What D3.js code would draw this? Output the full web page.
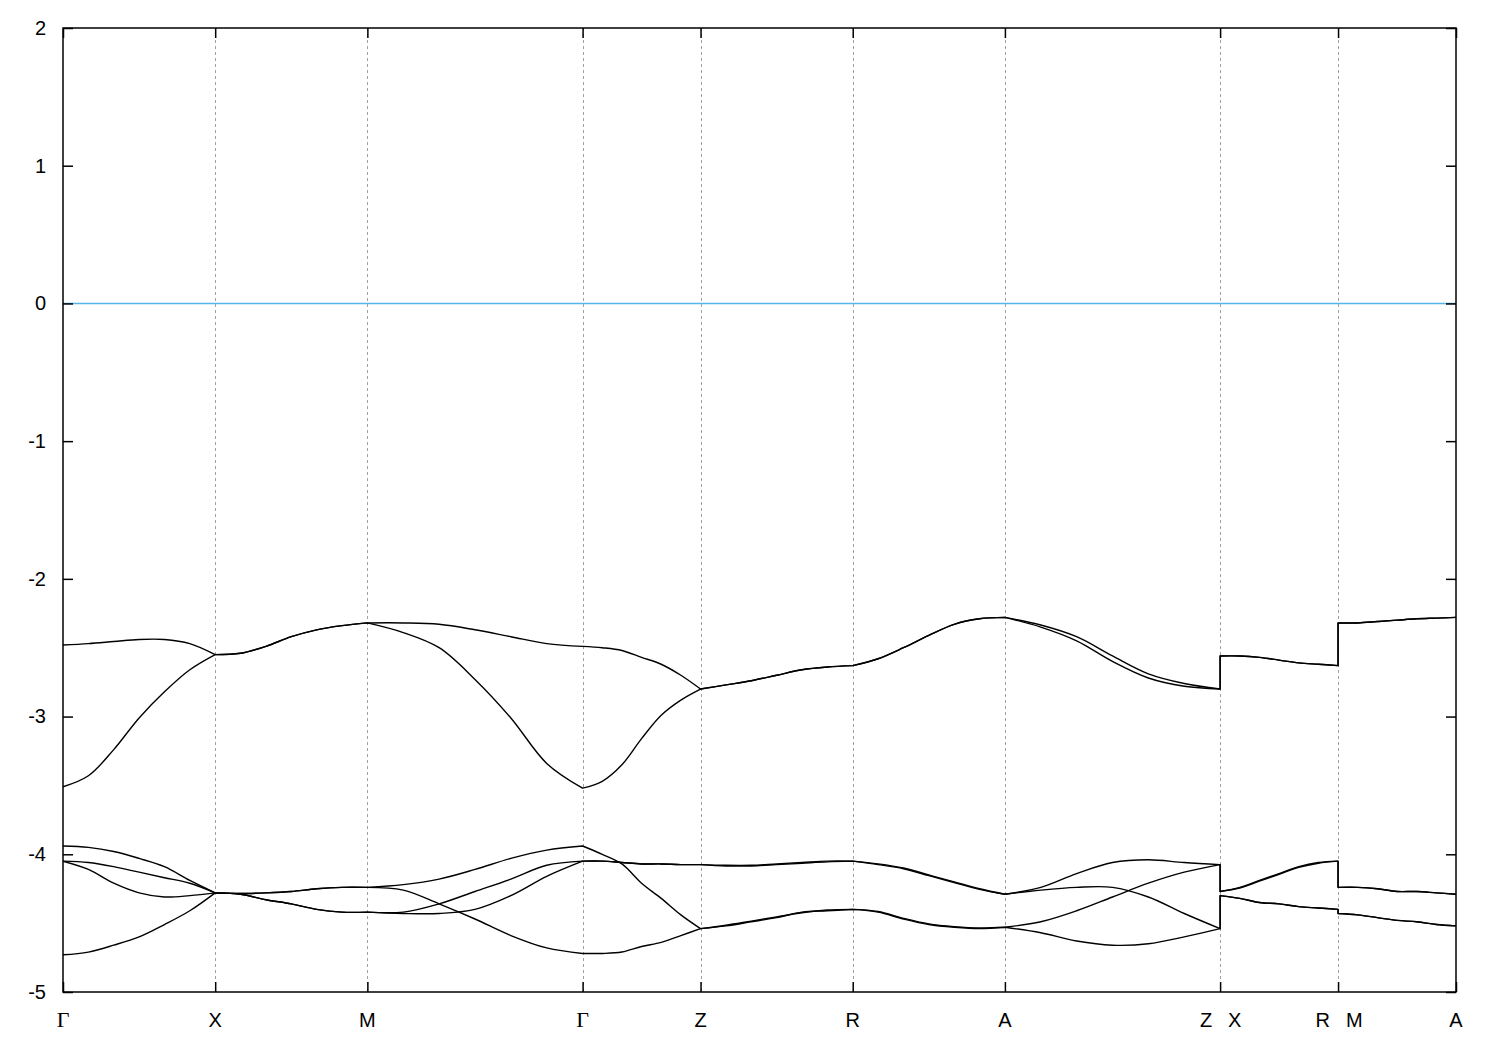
<!DOCTYPE html>
<html><head><meta charset="utf-8">
<script src="https://cdn.jsdelivr.net/npm/d3@7"></script>
<style>body{margin:0;background:#fff} svg{display:block}</style>
</head><body>
<svg id="chart" width="1500" height="1050"></svg>
<script>
// k-path positions of high-symmetry points (units of pi/a)
const kTicks = [0, 1.0, 2.0, 3.414, 4.189, 5.189, 6.189, 7.603, 8.378, 9.153];
const kLabels = ["Γ", "X", "M", "Γ", "Z", "R", "A", "Z|X", "R|M", "A"];
const yTicks = [-5, -4, -3, -2, -1, 0, 1, 2];
const fermiLevel = 0;

// each band: 9 segments (Γ-X, X-M, M-Γ, Γ-Z, Z-R, R-A, A-Z, X-R, M-A), 7 samples each
const bandU1 = [
  [-2.48, -2.47, -2.455, -2.44, -2.44, -2.47, -2.55],
  [-2.55, -2.54, -2.49, -2.42, -2.37, -2.34, -2.32],
  [-2.32, -2.32, -2.33, -2.37, -2.42, -2.47, -2.49],
  [-2.49, -2.50, -2.52, -2.57, -2.62, -2.70, -2.80],
  [-2.80, -2.77, -2.74, -2.70, -2.66, -2.64, -2.63],
  [-2.63, -2.58, -2.50, -2.41, -2.33, -2.29, -2.28],
  [-2.28, -2.335, -2.42, -2.56, -2.69, -2.76, -2.80],
  [-2.56, -2.56, -2.57, -2.59, -2.61, -2.62, -2.63],
  [-2.32, -2.32, -2.31, -2.30, -2.29, -2.285, -2.28]
];
const bandU2 = [
  [-3.51, -3.43, -3.24, -3.01, -2.82, -2.66, -2.55],
  [-2.55, -2.54, -2.49, -2.42, -2.37, -2.34, -2.32],
  [-2.32, -2.39, -2.50, -2.73, -3.01, -3.34, -3.52],
  [-3.52, -3.47, -3.35, -3.16, -2.99, -2.88, -2.80],
  [-2.80, -2.77, -2.74, -2.70, -2.66, -2.64, -2.63],
  [-2.63, -2.58, -2.50, -2.41, -2.33, -2.29, -2.28],
  [-2.28, -2.35, -2.45, -2.60, -2.72, -2.78, -2.80],
  [-2.56, -2.56, -2.57, -2.59, -2.61, -2.62, -2.63],
  [-2.32, -2.32, -2.31, -2.30, -2.29, -2.285, -2.28]
];
const bandL1 = [
  [-3.94, -3.95, -3.98, -4.03, -4.09, -4.19, -4.28],
  [-4.28, -4.285, -4.28, -4.27, -4.25, -4.24, -4.24],
  [-4.24, -4.22, -4.18, -4.11, -4.03, -3.97, -3.94],
  [-3.94, -4.00, -4.07, -4.21, -4.32, -4.44, -4.54],
  [-4.54, -4.52, -4.49, -4.46, -4.42, -4.41, -4.40],
  [-4.40, -4.42, -4.47, -4.51, -4.53, -4.54, -4.53],
  [-4.53, -4.57, -4.63, -4.66, -4.65, -4.60, -4.54],
  [-4.30, -4.32, -4.35, -4.36, -4.38, -4.39, -4.40],
  [-4.43, -4.44, -4.46, -4.48, -4.49, -4.51, -4.52]
];
const bandL2 = [
  [-4.05, -4.06, -4.09, -4.13, -4.17, -4.21, -4.28],
  [-4.28, -4.285, -4.28, -4.27, -4.25, -4.24, -4.24],
  [-4.24, -4.26, -4.36, -4.47, -4.59, -4.68, -4.72],
  [-4.72, -4.72, -4.71, -4.67, -4.64, -4.59, -4.54],
  [-4.54, -4.515, -4.485, -4.455, -4.425, -4.405, -4.40],
  [-4.40, -4.415, -4.465, -4.505, -4.525, -4.535, -4.53],
  [-4.53, -4.49, -4.41, -4.31, -4.21, -4.13, -4.075],
  [-4.27, -4.24, -4.19, -4.14, -4.09, -4.06, -4.05],
  [-4.24, -4.24, -4.25, -4.27, -4.27, -4.28, -4.29]
];
const bandL3 = [
  [-4.05, -4.11, -4.21, -4.28, -4.31, -4.30, -4.28],
  [-4.28, -4.29, -4.33, -4.36, -4.40, -4.42, -4.42],
  [-4.42, -4.42, -4.36, -4.27, -4.18, -4.08, -4.05],
  [-4.05, -4.05, -4.06, -4.07, -4.07, -4.075, -4.075],
  [-4.075, -4.08, -4.08, -4.07, -4.06, -4.05, -4.05],
  [-4.05, -4.07, -4.10, -4.15, -4.20, -4.25, -4.29],
  [-4.29, -4.24, -4.14, -4.06, -4.04, -4.06, -4.075],
  [-4.27, -4.245, -4.195, -4.145, -4.095, -4.065, -4.05],
  [-4.24, -4.24, -4.25, -4.27, -4.27, -4.28, -4.29]
];
const bandL4 = [
  [-4.73, -4.71, -4.66, -4.60, -4.51, -4.41, -4.28],
  [-4.28, -4.29, -4.33, -4.36, -4.40, -4.42, -4.42],
  [-4.42, -4.43, -4.43, -4.40, -4.30, -4.16, -4.05],
  [-4.05, -4.05, -4.06, -4.07, -4.07, -4.075, -4.075],
  [-4.075, -4.085, -4.085, -4.075, -4.065, -4.055, -4.05],
  [-4.05, -4.075, -4.105, -4.155, -4.205, -4.255, -4.29],
  [-4.29, -4.26, -4.24, -4.24, -4.31, -4.43, -4.54],
  [-4.30, -4.32, -4.35, -4.36, -4.38, -4.39, -4.40],
  [-4.43, -4.44, -4.46, -4.48, -4.49, -4.51, -4.52]
];
const bands = [bandU1, bandU2, bandL1, bandL2, bandL3, bandL4];

const mLeft = 63, mRight = 1456, mTop = 28, mBottom = 992;
const svg = d3.select("#chart");
const x = d3.scaleLinear().domain([kTicks[0], kTicks[kTicks.length - 1]]).range([mLeft, mRight]);
const y = d3.scaleLinear().domain([-5, 2]).range([mBottom, mTop]);

svg.append("defs").append("clipPath").attr("id", "plotclip")
  .append("rect").attr("x", mLeft).attr("y", mTop).attr("width", mRight - mLeft).attr("height", mBottom - mTop);

// vertical dashed grid lines at interior high-symmetry points
svg.append("g").selectAll("line").data(kTicks.slice(1, -1)).join("line")
  .attr("x1", d => Math.round(x(d)) + 0.5).attr("x2", d => Math.round(x(d)) + 0.5)
  .attr("y1", mTop).attr("y2", mBottom)
  .attr("stroke", "#a0a0a0").attr("stroke-width", 1).attr("stroke-dasharray", "3,3");

// Fermi level
svg.append("line")
  .attr("x1", mLeft).attr("x2", mRight).attr("y1", y(fermiLevel)).attr("y2", y(fermiLevel))
  .attr("stroke", "#56b4e9").attr("stroke-width", 1.5);

// bands
const line = d3.line().x(d => x(d[0])).y(d => y(d[1])).curve(d3.curveCatmullRom.alpha(0.5));
function bandPath(segs) {
  let d = "";
  segs.forEach((vals, s) => {
    const k0 = kTicks[s], k1 = kTicks[s + 1];
    const pts = vals.map((v, i) => [k0 + (k1 - k0) * i / (vals.length - 1), v]);
    let p = line(pts);
    if (s > 0) p = "L" + p.slice(1);
    d += p;
  });
  return d;
}
svg.append("g").attr("clip-path", "url(#plotclip)")
  .selectAll("path").data(bands).join("path")
  .attr("d", bandPath).attr("fill", "none")
  .attr("stroke", "#000").attr("stroke-width", 1.4).attr("stroke-linejoin", "round");

// axes (inward ticks)
const fontSans = "'Liberation Sans', Arial, sans-serif";
const yAxisL = svg.append("g").attr("transform", `translate(${mLeft},0)`)
  .call(d3.axisLeft(y).tickValues(yTicks).tickSizeInner(-10).tickSizeOuter(0).tickPadding(17).tickFormat(d => String(d)));
yAxisL.select(".domain").remove();
yAxisL.selectAll("text").attr("font-family", fontSans).attr("font-size", 20).attr("fill", "#000");
const yAxisR = svg.append("g").attr("transform", `translate(${mRight},0)`)
  .call(d3.axisRight(y).tickValues(yTicks).tickSizeInner(-10).tickSizeOuter(0).tickFormat(""));
yAxisR.select(".domain").remove();
const xAxisB = svg.append("g").attr("transform", `translate(0,${mBottom})`)
  .call(d3.axisBottom(x).tickValues(kTicks).tickSizeInner(-10).tickSizeOuter(0).tickFormat(""));
xAxisB.select(".domain").remove();
const xAxisT = svg.append("g").attr("transform", `translate(0,${mTop})`)
  .call(d3.axisTop(x).tickValues(kTicks).tickSizeInner(-10).tickSizeOuter(0).tickFormat(""));
xAxisT.select(".domain").remove();
svg.selectAll(".tick line").attr("stroke", "#000").attr("stroke-width", 1.5);

// x labels
const labG = svg.append("g");
kLabels.forEach((lab, i) => {
  const px = x(kTicks[i]);
  const parts = lab.split("|");
  const mk = (t, xx, anchor) => labG.append("text")
    .attr("x", xx).attr("y", 1027).attr("text-anchor", anchor)
    .attr("font-family", t === "Γ" ? "'Liberation Serif', 'Times New Roman', serif" : fontSans)
    .attr("font-size", t === "Γ" ? 22 : 20).attr("fill", "#000").text(t);
  if (parts.length === 2) {
    mk(parts[0], px - 8, "end");
    mk(parts[1], px + 8, "start");
  } else {
    mk(lab, px, "middle");
  }
});

// border
svg.append("rect").attr("x", mLeft).attr("y", mTop).attr("width", mRight - mLeft).attr("height", mBottom - mTop)
  .attr("fill", "none").attr("stroke", "#000").attr("stroke-width", 1.5);
</script>
</body></html>
